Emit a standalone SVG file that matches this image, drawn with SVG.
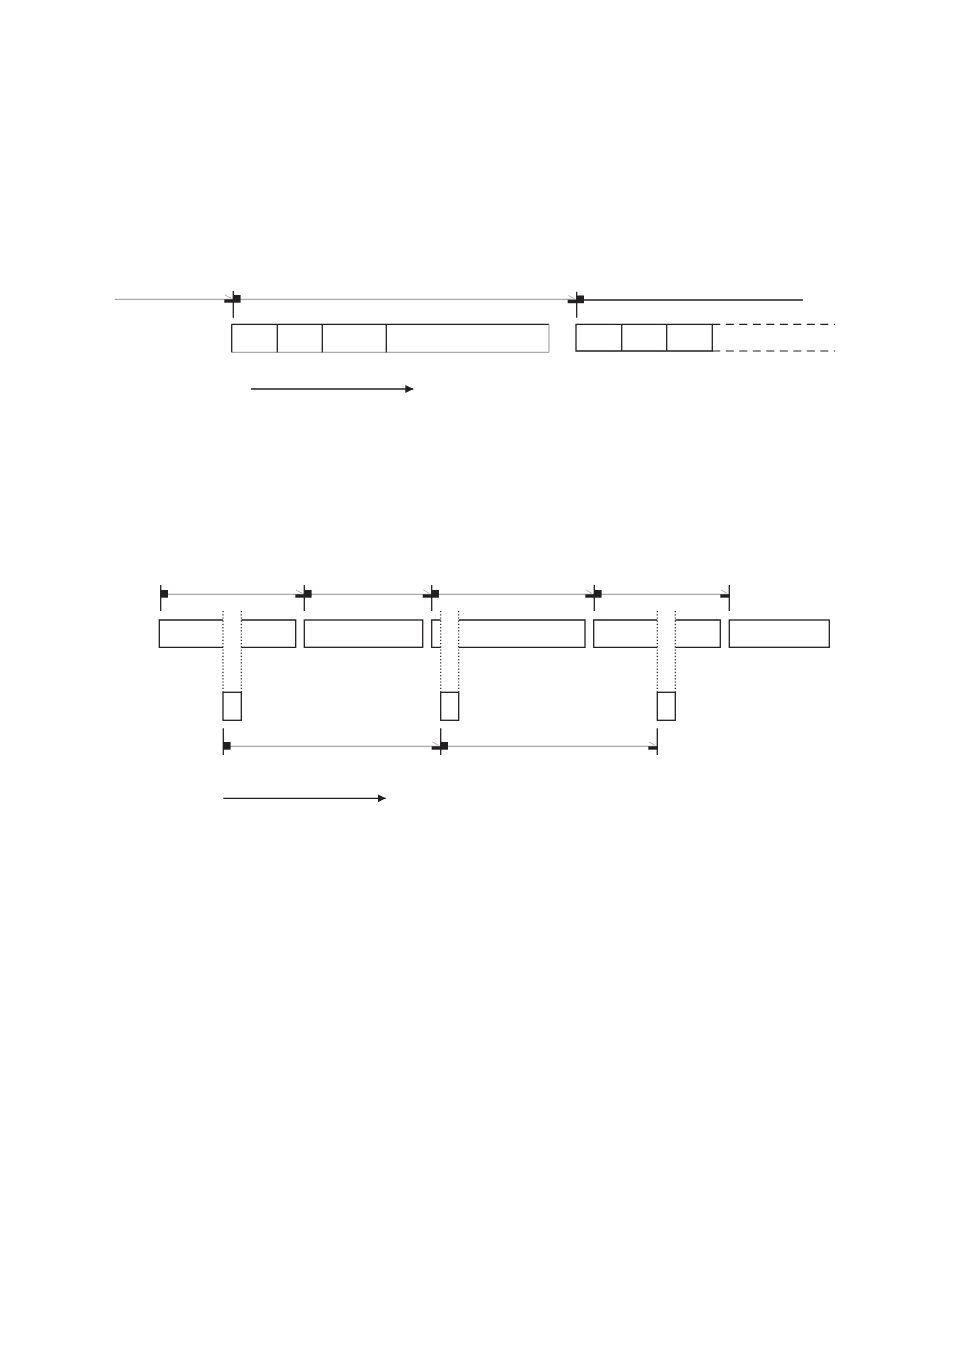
<svg xmlns="http://www.w3.org/2000/svg" xmlns:xlink="http://www.w3.org/1999/xlink" width="954" height="1348" viewBox="0 0 954 1348">
<style>
.bx{fill:none;stroke:#231f20;stroke-width:1.3}
.ln{stroke:#231f20;stroke-width:1.3;fill:none}
.gl{stroke:#aaaaaa;stroke-width:1.2;fill:none}
.dt{stroke:#231f20;stroke-width:1.2;stroke-dasharray:1.2,2;fill:none}
.ds{stroke:#231f20;stroke-width:1.2;stroke-dasharray:8,5.5;fill:none}
.tk{stroke:#231f20;stroke-width:1.3}
</style>
<defs>
<g id="ms"><rect x="0" y="-4.3" width="7.3" height="7.7" fill="#231f20"/></g>
<g id="me"><rect x="-9" y="0" width="9" height="3.4" fill="#231f20"/><line x1="-8.3" y1="-4.3" x2="-2.3" y2="-1" stroke="#aaaaaa" stroke-width="0.9"/></g>
<marker id="ah" markerWidth="8" markerHeight="8" refX="8" refY="4" orient="auto" markerUnits="userSpaceOnUse"><path d="M0,0 L8,4 L0,8 Z" fill="#231f20"/></marker>
</defs>
<rect width="954" height="1348" fill="#ffffff"/>

<g id="connectors">
<!-- top timeline -->
<line class="gl" x1="115" y1="299.3" x2="577" y2="299.3"/>
<line class="ln" x1="577" y1="300" x2="803" y2="300"/>
<line class="tk" x1="233.3" y1="291" x2="233.3" y2="317.7"/>
<line class="tk" x1="576.7" y1="291.7" x2="576.7" y2="317.7"/>
<use xlink:href="#me" x="233.3" y="299.3"/>
<use xlink:href="#ms" x="233.3" y="299.3"/>
<use xlink:href="#me" x="576.7" y="299.8"/>
<use xlink:href="#ms" x="576.7" y="299.8"/>
<line class="ln" x1="251" y1="389" x2="413.3" y2="389" marker-end="url(#ah)"/>

<!-- bottom upper timeline -->
<line class="gl" x1="160.7" y1="594.3" x2="729.3" y2="594.3"/>
<line class="tk" x1="160.7" y1="585" x2="160.7" y2="611"/>
<line class="tk" x1="304.3" y1="585" x2="304.3" y2="611"/>
<line class="tk" x1="431.7" y1="585" x2="431.7" y2="611"/>
<line class="tk" x1="594.3" y1="585" x2="594.3" y2="611"/>
<line class="tk" x1="729.3" y1="585" x2="729.3" y2="611"/>
<use xlink:href="#ms" x="160.7" y="594.3"/>
<use xlink:href="#me" x="304.3" y="594.3"/>
<use xlink:href="#ms" x="304.3" y="594.3"/>
<use xlink:href="#me" x="431.7" y="594.3"/>
<use xlink:href="#ms" x="431.7" y="594.3"/>
<use xlink:href="#me" x="594.3" y="594.3"/>
<use xlink:href="#ms" x="594.3" y="594.3"/>
<use xlink:href="#me" x="729.3" y="594.3"/>

<!-- dotted guides -->
<line class="dt" x1="223" y1="611" x2="223" y2="691.7"/>
<line class="dt" x1="241.3" y1="611" x2="241.3" y2="691.7"/>
<line class="dt" x1="440.7" y1="611" x2="440.7" y2="691.7"/>
<line class="dt" x1="458.7" y1="611" x2="458.7" y2="691.7"/>
<line class="dt" x1="657.3" y1="611" x2="657.3" y2="691.7"/>
<line class="dt" x1="675.3" y1="611" x2="675.3" y2="691.7"/>

<!-- bottom lower timeline -->
<line class="gl" x1="223.3" y1="746.3" x2="657.3" y2="746.3"/>
<line class="tk" x1="223.3" y1="728.3" x2="223.3" y2="755"/>
<line class="tk" x1="440.7" y1="728.3" x2="440.7" y2="755"/>
<line class="tk" x1="657.3" y1="728.3" x2="657.3" y2="755"/>
<use xlink:href="#ms" x="223.3" y="746.3"/>
<use xlink:href="#me" x="440.7" y="746.3"/>
<use xlink:href="#ms" x="440.7" y="746.3"/>
<use xlink:href="#me" x="657.3" y="746.3"/>
<line class="ln" x1="223.3" y1="798.3" x2="385.7" y2="798.3" marker-end="url(#ah)"/>
</g>

<g id="top-frame-1">
<line class="ln" x1="231.7" y1="324.3" x2="549" y2="324.3"/>
<line class="gl" x1="231.7" y1="352.3" x2="549" y2="352.3"/>
<line class="ln" x1="231.7" y1="324.3" x2="231.7" y2="352.3"/>
<line class="gl" x1="549" y1="324.3" x2="549" y2="352.3"/>
<line class="ln" x1="277.3" y1="324.3" x2="277.3" y2="352.3"/>
<line class="ln" x1="322.3" y1="324.3" x2="322.3" y2="352.3"/>
<line class="ln" x1="386.3" y1="324.3" x2="386.3" y2="352.3"/>
</g>

<g id="top-frame-2">
<path class="bx" d="M712.3,324.3 H576 V351 H712.3 Z"/>
<line class="ln" x1="621.7" y1="324.3" x2="621.7" y2="351"/>
<line class="ln" x1="666.7" y1="324.3" x2="666.7" y2="351"/>
<line class="ds" x1="712.3" y1="324.3" x2="835" y2="324.3"/>
<line class="ds" x1="712.3" y1="351" x2="835" y2="351"/>
</g>

<g id="box1">
<path class="bx" d="M223,620 H159.3 V647.3 H223 M241.3,620 H295.7 V647.3 H241.3"/>
</g>
<g id="box2">
<rect class="bx" x="304.3" y="620" width="118.4" height="27.3"/>
</g>
<g id="box3">
<path class="bx" d="M440.7,620 H431.7 V647.3 H440.7 M458.7,620 H585 V647.3 H458.7"/>
</g>
<g id="box4">
<path class="bx" d="M657.3,620 H593.7 V647.3 H657.3 M675.3,620 H720.3 V647.3 H675.3"/>
</g>
<g id="box5">
<rect class="bx" x="729.3" y="620" width="100" height="27.3"/>
</g>
<g id="small-a">
<rect class="bx" x="223" y="692.3" width="18.3" height="28"/>
</g>
<g id="small-b">
<rect class="bx" x="440.7" y="692.3" width="18" height="28"/>
</g>
<g id="small-c">
<rect class="bx" x="657.3" y="692.3" width="18" height="28"/>
</g>
</svg>
